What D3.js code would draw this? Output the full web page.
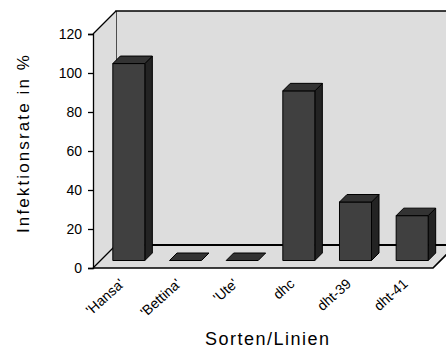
<!DOCTYPE html>
<html><head><meta charset="utf-8">
<script src="https://cdn.jsdelivr.net/npm/d3@7"></script>
<style>body{margin:0;background:#fff}svg{display:block}text{font-family:"Liberation Sans",Arial,sans-serif;fill:#000}</style>
</head><body><svg id="c" width="446" height="350"></svg>
<script>
const categories = ["'Hansa'", "'Bettina'", "'Ute'", "dhc", "dht-39", "dht-41"];
const values = [101, 0, 0, 87, 30, 23];
const yTicks = [0, 20, 40, 60, 80, 100, 120];
const yTitle = "Infektionsrate in %";
const xTitle = "Sorten/Linien";

const svg = d3.select("#c");
const X0 = 93, X1 = 433, D = 23;
const x = d3.scaleBand().domain(categories).range([X0, X1]).paddingInner(0.435).paddingOuter(0.2175);
const y = d3.scaleLinear().domain([0, 120]).range([268, 34]);
const yB = y(0), yT = y(120);
const wall = "#dddddd";

// back wall
svg.append("polygon").attr("points", [[X0+D, yT-D],[X1+D+40, yT-D],[X1+D+40, yB-D],[X0+D, yB-D]].join(" "))
  .attr("fill", wall).attr("stroke", "none");
svg.append("path").attr("d", `M${X0+D},${yB-D}V${yT-D}H${X1+D+40}`).attr("fill","none").attr("stroke","#000").attr("stroke-width",1.3);
// left wall
svg.append("polygon").attr("points", [[X0, yT],[X0+D, yT-D],[X0+D, yB-D],[X0, yB]].join(" "))
  .attr("fill", wall).attr("stroke", "none");
svg.append("path").attr("d", `M${X0},${yT}L${X0+D},${yT-D}`).attr("stroke","#000").attr("stroke-width",1.3);
// floor
svg.append("polygon").attr("points", [[X0, yB],[X1, yB],[X1+D, yB-D],[X0+D, yB-D]].join(" "))
  .attr("fill", wall).attr("stroke", "none");
svg.append("path").attr("d", `M${X0+D},${yB-D}H${X1+D+40}`).attr("stroke","#000").attr("stroke-width",2);
svg.append("path").attr("d", `M${X0},${yB}L${X0+D},${yB-D}`).attr("stroke","#000").attr("stroke-width",1.3);
svg.append("path").attr("d", `M${X0},${yB}H${X1}L${X1+D},${yB-D}`).attr("fill","none").attr("stroke","#000").attr("stroke-width",1.6);

// y axis
const yAxis = d3.axisLeft(y).tickValues(yTicks).tickSize(5).tickPadding(6);
const ga = svg.append("g").attr("transform", `translate(${X0},0)`).call(yAxis);
ga.select(".domain").attr("stroke","#000").attr("stroke-width",1.3);
ga.selectAll(".tick line").attr("stroke","#000").attr("stroke-width",1.3);
ga.selectAll(".tick text").style("font-family","'Liberation Sans',Arial,sans-serif").style("font-size","14px").attr("fill","#000");

// bars
const o1 = 7.5, bw = x.bandwidth();
const bars = svg.append("g").selectAll("g").data(categories.map((c,i)=>({c, v: values[i]}))).join("g");
bars.each(function(d){
  const g = d3.select(this);
  const xl = x(d.c) + o1, xr = xl + bw;
  const yt = y(d.v) - o1, yb = y(0) - o1;
  const st = {stroke:"#000","stroke-width":1,"stroke-linejoin":"round"};
  const ap = (sel)=>{for(const k in st) sel.attr(k, st[k]); return sel;};
  if (d.v > 0) {
    ap(g.append("polygon").attr("points", [[xr,yt],[xr+o1,yt-o1],[xr+o1,yb-o1],[xr,yb]].join(" ")).attr("fill","#232323"));
    ap(g.append("rect").attr("x", xl).attr("y", yt).attr("width", bw).attr("height", yb-yt).attr("fill","#404040"));
  }
  ap(g.append("polygon").attr("points", [[xl,yt],[xr,yt],[xr+o1,yt-o1],[xl+o1,yt-o1]].join(" ")).attr("fill","#333333"));
});

// category labels
svg.append("g").selectAll("text").data(categories).join("text")
  .attr("transform", d => `translate(${x(d)+bw/2+4},${yB+17}) rotate(-42)`)
  .attr("text-anchor","end").style("font-size","14px").text(d=>d);

// titles
svg.append("text").attr("x", 267).attr("y", 345).attr("text-anchor","middle")
  .style("font-size","18px").attr("textLength",124).attr("lengthAdjust","spacing").text(xTitle);
svg.append("text").attr("transform","translate(29,144) rotate(-90)").attr("text-anchor","middle")
  .style("font-size","17px").attr("textLength",178).attr("lengthAdjust","spacing").text(yTitle);
</script></body></html>
